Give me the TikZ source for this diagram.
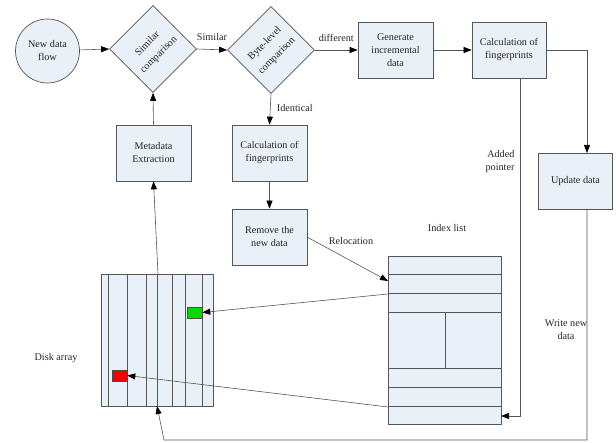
\documentclass[tikz,border=0pt]{standalone}
\usepackage{fontspec}
\setmainfont{Liberation Serif}
\usetikzlibrary{shapes.geometric,arrows.meta}
\definecolor{boxfill}{HTML}{EAF0F8}
\definecolor{edgec}{HTML}{555555}
\begin{document}
\begin{tikzpicture}[x=1pt,y=-1pt,
  txt/.style={font=\fontsize{10.2}{13}\selectfont,align=center,text=black!85},
  rtxt/.style={txt,rotate=45,inner sep=0pt},
  shp/.style={draw=edgec,fill=boxfill,line width=0.7pt},
  box/.style={shp,txt,minimum width=75pt,minimum height=56pt,inner sep=0pt},
  dia/.style={shp,diamond,minimum width=87pt,minimum height=87pt,inner sep=0pt},
  conn/.style={draw=edgec,line width=0.6pt},
  arr/.style={conn,-{Triangle[length=8pt,width=6pt,color=black]}}]
\useasboundingbox (0,0) rectangle (616,443);

% nodes
\node[shp,circle,minimum size=64pt,inner sep=0pt,txt] (c) at (47.5,51) {New data\\flow};
\node[dia] (d1) at (153,49) {};
\node[rtxt] (d1a) at ([shift={(-6,-6)}]d1.center) {Similar};
\node[rtxt] (d1b) at ([shift={(6,6)}]d1.center) {comparison};
\node[dia] (d2) at (271,50) {};
\node[rtxt] (d2a) at ([shift={(-6,-6)}]d2.center) {Byte-level};
\node[rtxt] (d2b) at ([shift={(6,6)}]d2.center) {comparison};
\node[box] (gen) at (395.5,50) {Generate\\incremental\\data};
\node[box,minimum width=74pt] (cf1) at (509,50) {Calculation of\\fingerprints};
\node[box,minimum width=74.5pt] (upd) at (575.5,181) {Update data};
\node[box] (meta) at (153.5,153) {Metadata\\Extraction};
\node[box] (cf2) at (269.5,153) {Calculation of\\fingerprints};
\node[box] (rem) at (269.5,237) {Remove the\\new data};

% index list
\node[shp,minimum width=113pt,minimum height=168pt,inner sep=0pt] (idx) at (444.5,340) {};
\foreach \yy in {274,293,312,368,387,406}
  \draw[conn] (388,\yy) -- (501,\yy);
\draw[conn] (445,312) -- (445,368);
\node[txt] (idxl) at (447,228) {Index list};

% disk array
\node[shp,minimum width=112pt,minimum height=132pt,inner sep=0pt] (disk) at (157,340) {};
\foreach \xx in {108,127,146,157,172,185,202}
  \draw[conn] (\xx,274) -- (\xx,406);
\node[draw=black!70,fill=green!85!black,minimum width=15pt,minimum height=11pt,inner sep=0pt,line width=0.5pt] (g) at (194.5,312.5) {};
\node[draw=black!70,fill=red!95!black,minimum width=15pt,minimum height=11pt,inner sep=0pt,line width=0.5pt] (r) at (119.5,375.5) {};
\node[txt] (diskl) at (56,358) {Disk array};

% coordinates
\coordinate (cfout) at (520,78);
\coordinate (cfdown) at (520,416);
\coordinate (updin) at (587,153);
\coordinate (updout) at (587,209);
\coordinate (wb) at (164,440);
\coordinate (dbot) at (157,406);
\coordinate (dtop) at (158,274);
\coordinate (idx2) at (388,281);
\coordinate (idx3) at (388,294);
\coordinate (idx7) at (388,407);
\coordinate (idxr) at (501,416);
\coordinate (remr) at (307,237);

% connectors
\draw[arr] (c) -- (d1.west);
\draw[arr] (d1.east) -- node[txt,above=5pt] {Similar} (d2.west);
\draw[arr] (d2.east) -- node[txt,above=5pt] {different} (gen.west);
\draw[arr] (gen.east) -- (cf1.west);
\draw[arr] (cf1.east) -| (updin);
\draw[arr] (updout) |- (wb) -- (dbot);
\draw[arr] (meta.north) -- (d1.south);
\draw[arr] (dtop) -- (meta.south);
\draw[arr] (d2.south) -- node[txt,right=3pt,pos=0.45] {Identical} (cf2.north);
\draw[arr] (cf2.south) -- (rem.north);
\draw[arr] (remr) -- (idx2);
\node[txt] (rell) at (351,241) {Relocation};
\draw[arr] (cfout) -- (cfdown) -- (idxr);
\node[txt,align=right] (addl) at (500,162) {Added\\pointer};
\node[txt] (wrl) at (566,330) {Write new\\data};
\draw[arr] (idx3) -- (g.east);
\draw[arr] (idx7) -- (r.east);
\end{tikzpicture}
\end{document}
